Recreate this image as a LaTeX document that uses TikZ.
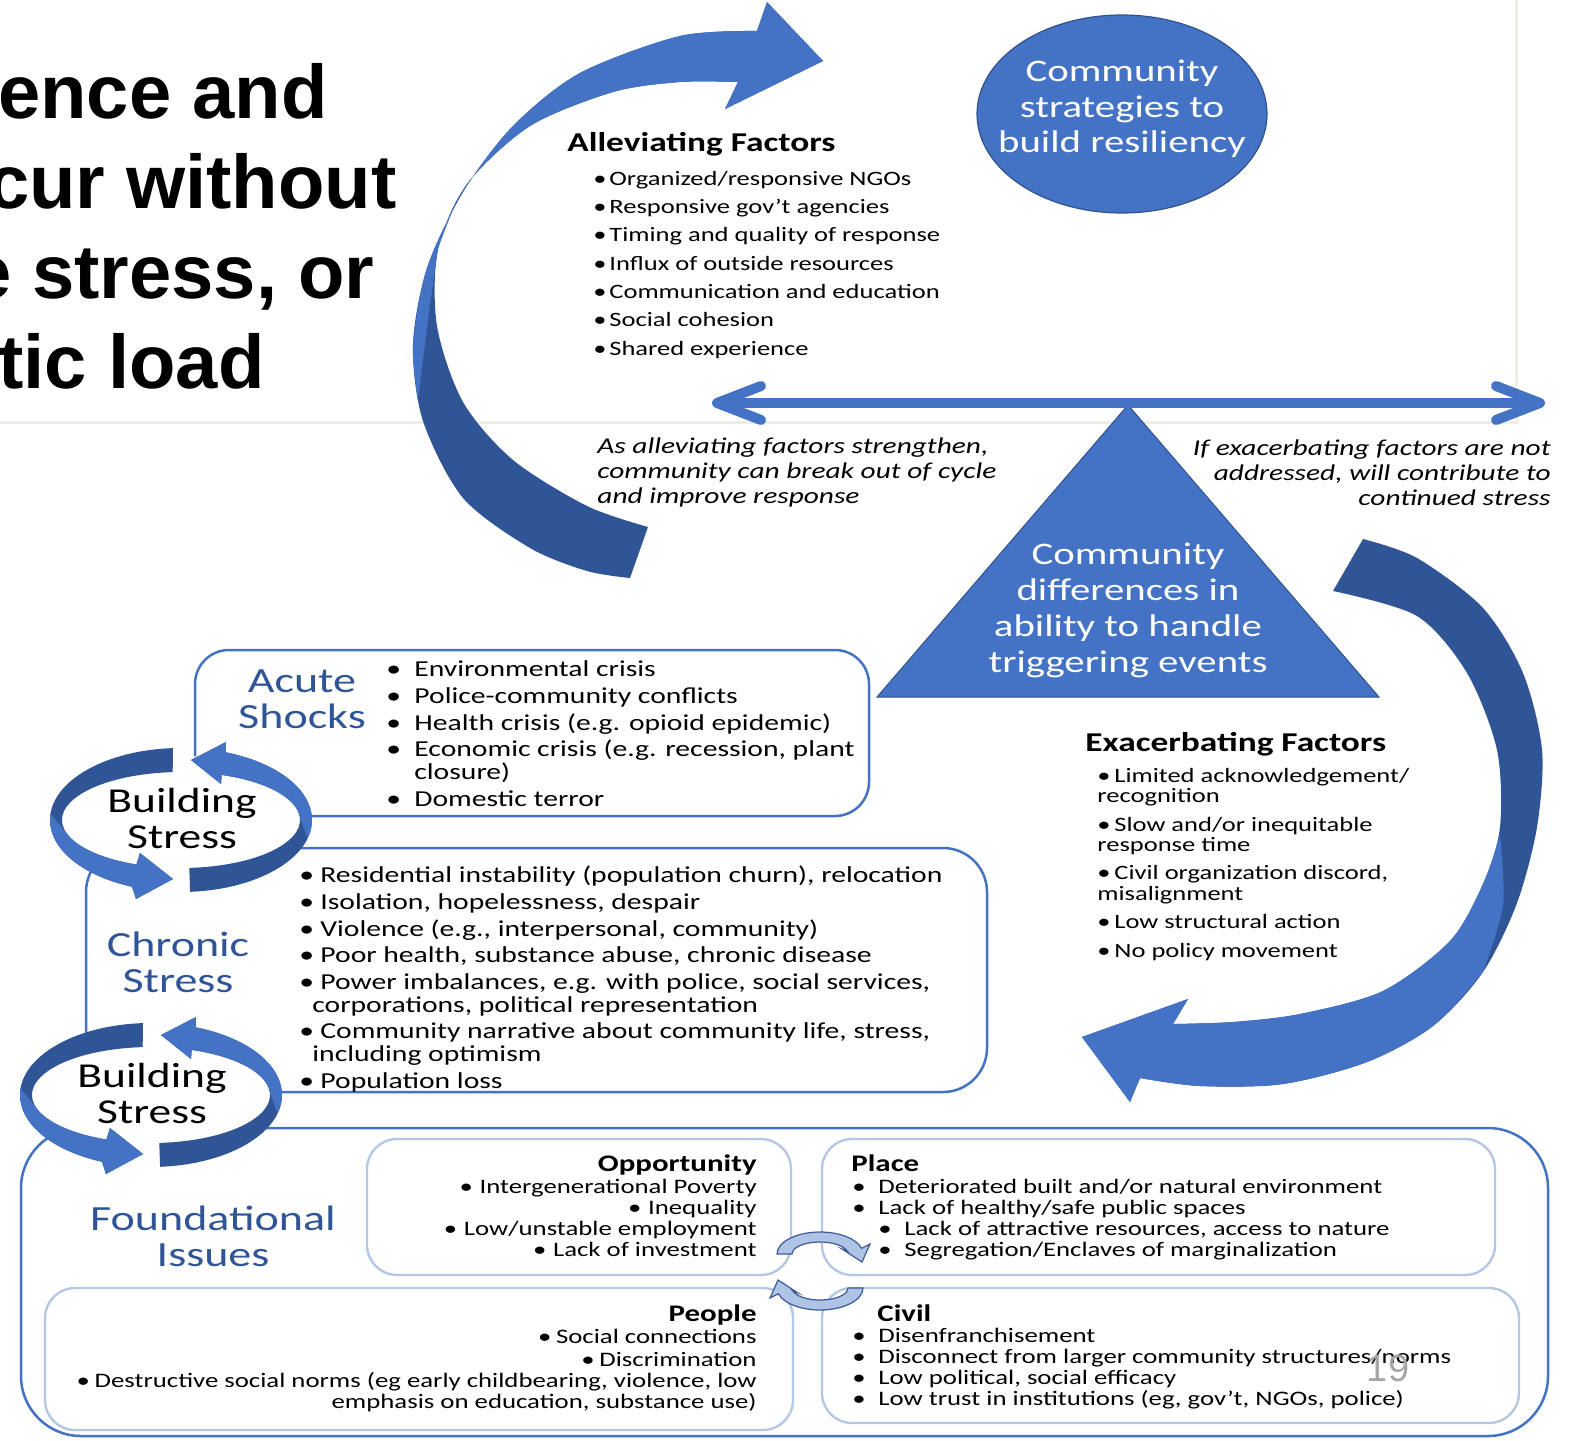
\documentclass[tikz,border=0pt]{standalone}
\usepackage{fontspec}
\setmainfont{Carlito}
\newfontfamily\diagfont[FakeStretch=1.3]{Carlito}
\newfontfamily\slidefont{Liberation Sans}
\usetikzlibrary{
	positioning,      % relative placement
	arrows.meta,      % barb tips on the balance line
	shapes.geometric  % ellipse node
}

\definecolor{diagblue}{HTML}{4472C4}
\definecolor{diagdark}{HTML}{2F5597}
\definecolor{shapeline}{HTML}{2F528F}
\definecolor{labelblue}{HTML}{2F5597}
\definecolor{subline}{HTML}{B4C7E7}
\definecolor{cyclefill}{HTML}{AFC3E6}
\definecolor{cycleline}{HTML}{3C5B95}
\definecolor{slideedge}{HTML}{ECEEE6}

% bullet with a fixed gap before the text
\newcommand{\bul}[1]{\makebox[#1][l]{•}}
% bold heading inside the foundational boxes
\newcommand{\issuehead}[1]{{\bfseries\fontsize{11.9}{10.4}\selectfont #1}}

\tikzset{
	bigbox/.style={draw=diagblue, line width=1.25pt, rounded corners=#1},
	subbox/.style={draw=subline, line width=1.2pt, rounded corners=15pt},
	titletext/.style={font=\slidefont\bfseries\fontsize{38}{45}\selectfont, anchor=base east, inner sep=0pt},
	shapetext/.style={font=\diagfont\fontsize{15.7}{17.8}\selectfont, text=white, align=center, inner sep=0pt},
	bluelabel/.style={font=\diagfont\fontsize{17.7}{18}\selectfont, text=labelblue, align=center, inner sep=0pt},
	stresslabel/.style={font=\diagfont\fontsize{17.5}{18}\selectfont, align=center, inner sep=0pt},
	factorhead/.style={font=\diagfont\bfseries\fontsize{13.6}{16}\selectfont, anchor=base west, inner sep=0pt},
	% lists are placed by the baseline of their last line
	factorlist/.style={font=\diagfont\fontsize{10.2}{14.15}\selectfont, align=left, anchor=base west, inner sep=0pt},
	notetext/.style={font=\diagfont\itshape\fontsize{11.3}{12.5}\selectfont, inner sep=0pt},
	stresslist/.style={font=\diagfont\fontsize{11.4}{11.2}\selectfont, align=left, anchor=base west, inner sep=0pt},
	issuetext/.style={font=\diagfont\fontsize{10.3}{10.4}\selectfont, inner sep=0pt},
	balance/.style={diagblue, line width=5pt,
		{Straight Barb[length=22pt, width=17pt, line width=5pt, round]}-{Straight Barb[length=22pt, width=17pt, line width=5pt, round]}}
}

% ring of two arrows round "Building Stress"; #1 centre, #2 name
\newcommand{\stresscycle}[2]{%
	\begin{scope}[shift={#1}]
		\fill[white] (0,0) ellipse[x radius=127, y radius=64];
		% left half: tail at the top, head at the bottom
		\fill[diagdark] (-8,-71.9) arc[start angle=266.5, end angle=112, x radius=131, y radius=72]
			-- (-45,79) -- (-8,59) -- (-41,33) -- (-44.6,44.5)
			arc[start angle=112, end angle=266, x radius=119, y radius=48] -- cycle;
		\fill[diagblue] (-130.5,-6.3) arc[start angle=185, end angle=112, x radius=131, y radius=72]
			-- (-45,79) -- (-8,59) -- (-41,33) -- (-44.6,44.5)
			arc[start angle=112, end angle=160, x radius=119, y radius=48] -- cycle;
		% right half: tail at the bottom, head at the top
		\fill[diagdark] (9.1,71.8) arc[start angle=86, end angle=-70, x radius=131, y radius=72]
			-- (45,-78) -- (10,-60) -- (40,-36) -- (40.7,-45.1)
			arc[start angle=-70, end angle=86, x radius=119, y radius=48] -- cycle;
		\fill[diagblue] (126.5,18.6) arc[start angle=15, end angle=-70, x radius=131, y radius=72]
			-- (45,-78) -- (10,-60) -- (40,-36) -- (40.7,-45.1)
			arc[start angle=-70, end angle=-10, x radius=119, y radius=48] -- cycle;
		\node[stresslabel] (#2) at (1,-2) {Building\\Stress};
	\end{scope}}

% small half-round arrow between the foundational boxes; #1 rotation
\newcommand{\smallcycle}[1]{%
	\begin{scope}[shift={(820,1271)}, rotate=#1]
		\filldraw[fill=cyclefill, draw=cycleline, line width=0.6pt]
			(-43,-17) arc[start angle=180, end angle=345, x radius=43, y radius=22]
			-- (50,-27) -- (42,-9) -- (22,-22) -- (27,-20.1)
			arc[start angle=345, end angle=180, x radius=28, y radius=12] -- cycle;
	\end{scope}}

\begin{document}
\begin{tikzpicture}[x=0.5pt, y=-0.5pt]
	\useasboundingbox (0,0) rectangle (1573,1440);
	\clip (0,0) rectangle (1573,1440);
	
	% --- edge of the slide behind the diagram ---
	\draw[slideedge, line width=1.5pt] (0,422) -- (1516,422) -- (1516,0);
	
	% --- slide title, cut at the left edge ---
	\node[titletext] (title1) at (328,118) {ence and};
	\node[titletext] (title2) at (397,208) {cur without};
	\node[titletext] (title3) at (375,298) {e stress, or};
	\node[titletext] (title4) at (265,388) {tic load};
	
	% --- big arrow on the left (breaking out of the cycle) ---
	\fill[diagdark] (823,61) -- (767,2) -- (757,31)
		-- plot[smooth] coordinates {(757,31) (680,36) (580,73) (513,126) (463,192) (427,268) (413,345) (423,421) (463,498) (530,548) (587,571) (630,578)}
		-- (648,527)
		-- plot[smooth] coordinates {(648,527) (587,506) (513,460) (463,402) (437,326) (438,249) (467,184) (530,126) (613,92) (680,82) (738,82)}
		-- (725,109) -- cycle;
	\fill[diagblue] (823,61) -- (767,2) -- (757,31)
		-- plot[smooth] coordinates {(757,31) (680,36) (580,73) (513,126) (463,192) (427,268) (413,345) (418,400)}
		-- plot[smooth] coordinates {(418,400) (428,320) (438,249)}
		-- plot[smooth] coordinates {(438,249) (467,184) (530,126) (613,92) (680,82) (738,82)}
		-- (725,109) -- cycle;
	
	% --- big arrow on the right (continued stress) ---
	\fill[diagdark] (1082,1037) -- (1130,1102) -- (1140,1078)
		-- plot[smooth] coordinates {(1140,1078) (1200,1086) (1283,1084) (1367,1062) (1433,1026) (1483,972) (1517,903) (1537,827) (1542,750) (1523,673) (1483,608) (1417,558) (1363,539)}
		-- (1333,591)
		-- plot[smooth] coordinates {(1333,591) (1417,616) (1467,673) (1497,750) (1500,827) (1483,884) (1450,941) (1383,991) (1300,1014) (1233,1022) (1173,1024)}
		-- (1188,999) -- cycle;
	\fill[diagblue] (1082,1037) -- (1130,1102) -- (1140,1078)
		-- plot[smooth] coordinates {(1140,1078) (1200,1086) (1283,1084) (1367,1062) (1433,1026) (1483,972)}
		-- plot[smooth] coordinates {(1483,972) (1503,905) (1500,835)}
		-- plot[smooth] coordinates {(1500,835) (1483,884) (1450,941) (1383,991) (1300,1014) (1233,1022) (1173,1024)}
		-- (1188,999) -- cycle;
	
	% --- strategies ellipse ---
	\node[ellipse, fill=diagblue, draw=shapeline, line width=0.6pt, minimum width=145pt, minimum height=99pt, inner sep=0pt] (strategies) at (1122,114) {};
	\node[shapetext] (strategytext) at (1122,109) {Community\\strategies to\\build resiliency};
	
	% --- balance line and triangle ---
	\coordinate (balanceleft) at (712,403);
	\coordinate (balanceright) at (1545,403);
	\coordinate (apex) at (1128,405);
	\coordinate (baseleft) at (877,697);
	\coordinate (baseright) at (1379,697);
	\filldraw[fill=diagblue, draw=shapeline, line width=0.5pt] (apex) -- (baseright) -- (baseleft) -- cycle;
	\draw[balance] (balanceleft) -- (balanceright);
	\node[shapetext, font=\diagfont\fontsize{15.7}{18}\selectfont] (differences) at (1128,610) {Community\\differences in\\ability to handle\\triggering events};
	
	% --- boxes ---
	\draw[bigbox=17pt] (195,650) rectangle (869,816);
	\draw[bigbox=22pt] (86,848) rectangle (987,1092);
	\draw[bigbox=30pt] (21,1128) rectangle (1548,1436);
	\draw[subbox] (367,1139) rectangle (791,1275);
	\draw[subbox] (822,1139) rectangle (1495,1275);
	\draw[subbox] (45,1288) rectangle (793,1430);
	\draw[subbox] (822,1288) rectangle (1519,1423);
	
	\smallcycle{0}
	\smallcycle{180}
	
	\stresscycle{(181,820)}{stressupper}
	\stresscycle{(151,1095)}{stresslower}
	
	% --- alleviating factors ---
	\node[factorhead] (alleviatehead) at (567,151) {Alleviating Factors};
	\node[factorlist] (alleviatelist) at (593,355) {\bul{8pt}Organized/responsive NGOs\\
		\bul{8pt}Responsive gov’t agencies\\
		\bul{8pt}Timing and quality of response\\
		\bul{8pt}Influx of outside resources\\
		\bul{8pt}Communication and education\\
		\bul{8pt}Social cohesion\\
		\bul{8pt}Shared experience};
	
	% --- notes under the balance line ---
	\node[notetext, align=left, anchor=base west] (alleviatenote) at (597,503) {As alleviating factors strengthen,\\community can break out of cycle\\and improve response};
	\node[notetext, align=right, anchor=base east] (exacerbatenote) at (1551,505) {If exacerbating factors are not\\addressed, will contribute to\\continued stress};
	
	% --- exacerbating factors ---
	\node[factorhead] (exacerbatehead) at (1085,751) {Exacerbating Factors};
	\node[factorlist, font=\diagfont\fontsize{10.2}{10.25}\selectfont] (exacerbatelist) at (1097,957) {\bul{8.5pt}Limited acknowledgement/\\recognition\\[3.9pt]
		\bul{8.5pt}Slow and/or inequitable\\response time\\[3.9pt]
		\bul{8.5pt}Civil organization discord,\\misalignment\\[3.9pt]
		\bul{8.5pt}Low structural action\\[3.9pt]
		\bul{8.5pt}No policy movement};
	
	% --- acute shocks ---
	\node[bluelabel] (acute) at (302,699) {Acute\\Shocks};
	\node[stresslist] (acutelist) at (386,806) {\bul{14pt}Environmental crisis\\[2.2pt]
		\bul{14pt}Police-community conflicts\\[2.2pt]
		\bul{14pt}Health crisis (e.g. opioid epidemic)\\[2.2pt]
		\bul{14pt}Economic crisis (e.g. recession, plant\\
		\hspace*{14pt}closure)\\[2.2pt]
		\bul{14pt}Domestic terror};
	
	% --- chronic stress ---
	\node[bluelabel] (chronic) at (178,962) {Chronic\\Stress};
	\node[stresslist] (chroniclist) at (299,1088) {\bul{10.5pt}Residential instability (population churn), relocation\\[2.2pt]
		\bul{10.5pt}Isolation, hopelessness, despair\\[2.2pt]
		\bul{10.5pt}Violence (e.g., interpersonal, community)\\[2.2pt]
		\bul{10.5pt}Poor health, substance abuse, chronic disease\\[2.2pt]
		\bul{10.5pt}Power imbalances, e.g. with police, social services,\\
		\hspace*{6.5pt}corporations, political representation\\[2.2pt]
		\bul{10.5pt}Community narrative about community life, stress,\\
		\hspace*{6.5pt}including optimism\\[2.2pt]
		\bul{10.5pt}Population loss};
	
	% --- foundational issues ---
	\node[bluelabel] (foundational) at (213,1236) {Foundational\\Issues};
	\node[issuetext, align=right, anchor=base east] (opportunity) at (757,1256) {\issuehead{Opportunity}\\[0.6pt]
		\bul{10pt}Intergenerational Poverty\\
		\bul{10pt}Inequality\\
		\bul{10pt}Low/unstable employment\\
		\bul{10pt}Lack of investment};
	\node[issuetext, align=left, anchor=base west] (place) at (851,1256) {\issuehead{Place}\\[0.6pt]
		\hspace*{0.5pt}\bul{13pt}Deteriorated built and/or natural environment\\
		\hspace*{0.5pt}\bul{13pt}Lack of healthy/safe public spaces\\
		\hspace*{13.5pt}\bul{13pt}Lack of attractive resources, access to nature\\
		\hspace*{13.5pt}\bul{13pt}Segregation/Enclaves of marginalization};
	\node[issuetext, align=right, anchor=base east] (people) at (757,1408) {\issuehead{People}\\[0.6pt]
		\bul{9pt}Social connections\\[1.2pt]
		\bul{9pt}Discrimination\\
		\bul{9pt}Destructive social norms (eg early childbearing, violence, low\\
		emphasis on education, substance use)};
	\node[issuetext, align=left, anchor=base west] (civil) at (851,1405) {\hspace*{13pt}\issuehead{Civil}\\[0.4pt]
		\hspace*{0.5pt}\bul{13pt}Disenfranchisement\\
		\hspace*{0.5pt}\bul{13pt}Disconnect from larger community structures/norms\\
		\hspace*{0.5pt}\bul{13pt}Low political, social efficacy\\
		\hspace*{0.5pt}\bul{13pt}Low trust in institutions (eg, gov’t, NGOs, police)};
	
	\node[font=\slidefont\fontsize{19}{19}\selectfont, text=black!35, inner sep=0pt] (pagenumber) at (1388,1368) {19};
\end{tikzpicture}
\end{document}
